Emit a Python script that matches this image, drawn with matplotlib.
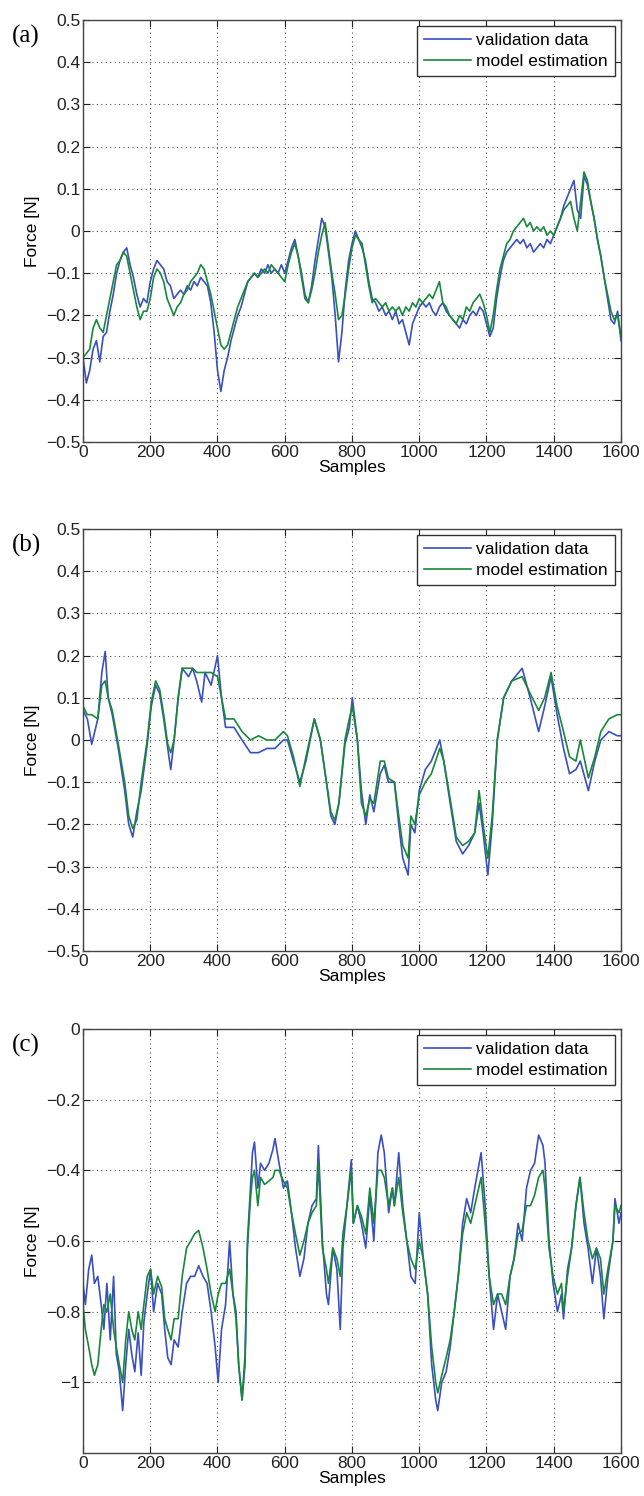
import numpy as np
import matplotlib
matplotlib.use("Agg")
from matplotlib import pyplot as plt

# panel (a): samples every 10
a_x = np.arange(0, 1601, 10)
a_valid = [-0.30, -0.36, -0.33, -0.28, -0.26, -0.31, -0.25, -0.24, -0.19, -0.15,
           -0.10, -0.07, -0.05, -0.04, -0.08, -0.11, -0.15, -0.18, -0.16, -0.17,
           -0.12, -0.09, -0.07, -0.08, -0.09, -0.12, -0.13, -0.16, -0.15, -0.14,
           -0.15, -0.13, -0.14, -0.12, -0.13, -0.11, -0.12, -0.13, -0.17, -0.24,
           -0.33, -0.38, -0.33, -0.30, -0.26, -0.23, -0.20, -0.18, -0.15, -0.12,
           -0.11, -0.10, -0.11, -0.09, -0.10, -0.08, -0.10, -0.09, -0.10, -0.08,
           -0.10, -0.07, -0.04, -0.02, -0.06, -0.10, -0.15, -0.17, -0.13, -0.07,
           -0.02, 0.03, 0.01, -0.05, -0.11, -0.20, -0.31, -0.24, -0.14, -0.07,
           -0.03, 0.00, -0.02, -0.04, -0.07, -0.12, -0.16, -0.17, -0.19, -0.18,
           -0.20, -0.19, -0.21, -0.19, -0.22, -0.21, -0.24, -0.27, -0.22, -0.20,
           -0.18, -0.17, -0.18, -0.17, -0.19, -0.20, -0.18, -0.17, -0.19, -0.20,
           -0.21, -0.22, -0.23, -0.21, -0.22, -0.20, -0.19, -0.20, -0.18, -0.19,
           -0.22, -0.25, -0.23, -0.16, -0.11, -0.07, -0.05, -0.04, -0.03, -0.02,
           -0.03, -0.02, -0.04, -0.03, -0.05, -0.04, -0.03, -0.04, -0.02, -0.03,
           -0.01, 0.01, 0.03, 0.06, 0.08, 0.10, 0.12, 0.05, 0.03, 0.13,
           0.11, 0.07, 0.03, -0.02, -0.06, -0.11, -0.16, -0.21, -0.22, -0.19,
           -0.26]
a_model = [-0.30, -0.29, -0.28, -0.23, -0.21, -0.23, -0.24, -0.20, -0.16, -0.12,
           -0.08, -0.07, -0.05, -0.06, -0.10, -0.14, -0.18, -0.21, -0.19, -0.19,
           -0.16, -0.11, -0.09, -0.10, -0.12, -0.16, -0.18, -0.20, -0.18, -0.17,
           -0.15, -0.14, -0.12, -0.11, -0.10, -0.08, -0.09, -0.12, -0.15, -0.19,
           -0.23, -0.27, -0.28, -0.27, -0.24, -0.21, -0.18, -0.16, -0.14, -0.12,
           -0.11, -0.10, -0.11, -0.10, -0.09, -0.10, -0.08, -0.09, -0.10, -0.11,
           -0.12, -0.08, -0.05, -0.03, -0.06, -0.11, -0.16, -0.17, -0.14, -0.10,
           -0.05, -0.01, 0.02, -0.04, -0.10, -0.15, -0.21, -0.20, -0.15, -0.09,
           -0.04, -0.01, -0.02, -0.03, -0.08, -0.13, -0.17, -0.16, -0.17, -0.18,
           -0.17, -0.19, -0.18, -0.19, -0.18, -0.20, -0.18, -0.19, -0.17, -0.18,
           -0.16, -0.17, -0.16, -0.15, -0.16, -0.14, -0.12, -0.17, -0.18, -0.20,
           -0.21, -0.22, -0.20, -0.21, -0.18, -0.19, -0.17, -0.16, -0.15, -0.17,
           -0.20, -0.24, -0.20, -0.14, -0.09, -0.06, -0.03, -0.02, 0.00, 0.01,
           0.02, 0.03, 0.01, 0.02, 0.00, 0.01, 0.00, 0.01, -0.01, 0.00,
           -0.01, 0.01, 0.03, 0.05, 0.06, 0.07, 0.03, 0.00, 0.07, 0.14,
           0.12, 0.07, 0.03, -0.02, -0.06, -0.11, -0.15, -0.19, -0.21, -0.20,
           -0.25]

# panel (b): key samples
b_x = [0, 13, 26, 44, 56, 66, 75, 87, 105, 124, 136, 148, 160, 173, 191, 203,
       216, 228, 240, 252, 261, 271, 283, 295, 314, 326, 338, 353, 363, 381, 400,
       412, 424, 449, 473, 498, 522, 547, 571, 596, 608, 626, 645, 663, 688, 706,
       724, 737, 749, 761, 779, 792, 801, 816, 828, 841, 853, 865, 884, 896, 908,
       926, 939, 951, 967, 975, 987, 1000, 1018, 1036, 1061, 1073, 1092, 1110,
       1129, 1147, 1165, 1178, 1190, 1204, 1217, 1232, 1251, 1275, 1306, 1330,
       1355, 1373, 1392, 1410, 1429, 1447, 1466, 1479, 1503, 1522, 1540, 1564,
       1589, 1600]
b_valid = [0.07, 0.05, -0.01, 0.05, 0.16, 0.21, 0.10, 0.06, -0.02, -0.12, -0.20,
           -0.23, -0.17, -0.12, -0.01, 0.08, 0.13, 0.11, 0.05, -0.02, -0.07, 0.00,
           0.10, 0.17, 0.15, 0.17, 0.14, 0.09, 0.16, 0.13, 0.20, 0.10, 0.03, 0.03,
           0.00, -0.03, -0.03, -0.02, -0.02, 0.00, 0.00, -0.05, -0.10, -0.05, 0.05,
           0.00, -0.10, -0.18, -0.20, -0.15, -0.01, 0.03, 0.10, 0.00, -0.12, -0.20,
           -0.13, -0.17, -0.08, -0.06, -0.10, -0.10, -0.20, -0.28, -0.32, -0.20,
           -0.22, -0.12, -0.07, -0.05, 0.00, -0.05, -0.15, -0.24, -0.27, -0.25,
           -0.22, -0.15, -0.22, -0.32, -0.20, 0.00, 0.10, 0.14, 0.17, 0.10, 0.02,
           0.08, 0.15, 0.06, -0.02, -0.08, -0.07, -0.05, -0.12, -0.05, 0.00, 0.02,
           0.01, 0.01]
b_model = [0.08, 0.06, 0.06, 0.05, 0.13, 0.14, 0.10, 0.07, -0.01, -0.10, -0.18,
           -0.21, -0.19, -0.10, 0.00, 0.09, 0.14, 0.12, 0.06, -0.01, -0.03, 0.00,
           0.10, 0.17, 0.17, 0.17, 0.16, 0.16, 0.16, 0.16, 0.15, 0.10, 0.05, 0.05,
           0.02, 0.00, 0.01, 0.00, 0.00, 0.02, 0.01, -0.04, -0.11, -0.04, 0.05,
           0.00, -0.10, -0.17, -0.19, -0.15, 0.00, 0.05, 0.08, 0.00, -0.15, -0.18,
           -0.14, -0.15, -0.05, -0.05, -0.09, -0.10, -0.18, -0.25, -0.28, -0.18,
           -0.20, -0.13, -0.10, -0.08, -0.02, -0.05, -0.14, -0.23, -0.25, -0.24,
           -0.22, -0.12, -0.20, -0.28, -0.18, 0.00, 0.10, 0.14, 0.15, 0.11, 0.07,
           0.10, 0.16, 0.08, 0.02, -0.04, -0.05, 0.00, -0.09, -0.04, 0.02, 0.05,
           0.06, 0.06]

# panel (c): key samples
c_x = [0, 7, 17, 26, 34, 44, 54, 62, 71, 81, 91, 99, 108, 118, 127, 136, 145,
       154, 164, 173, 181, 191, 201, 210, 222, 234, 243, 252, 262, 271, 283, 295,
       308, 320, 332, 344, 357, 369, 381, 393, 402, 412, 424, 436, 446, 455, 463,
       473, 482, 489, 498, 504, 510, 520, 528, 540, 553, 565, 571, 583, 596, 608,
       620, 632, 645, 657, 669, 681, 694, 700, 712, 724, 730, 743, 755, 765, 773,
       785, 798, 804, 816, 828, 841, 853, 865, 877, 887, 896, 909, 920, 926, 939,
       951, 963, 975, 988, 1000, 1012, 1025, 1037, 1049, 1055, 1067, 1080, 1092,
       1104, 1116, 1129, 1141, 1153, 1165, 1184, 1196, 1208, 1221, 1233, 1245,
       1257, 1270, 1282, 1294, 1306, 1319, 1331, 1343, 1355, 1368, 1374, 1386,
       1398, 1411, 1423, 1429, 1441, 1453, 1466, 1478, 1490, 1502, 1515, 1527,
       1539, 1549, 1561, 1576, 1582, 1594, 1600]
c_valid = [-0.72, -0.78, -0.68, -0.64, -0.72, -0.70, -0.78, -0.85, -0.72, -0.88,
           -0.70, -0.92, -0.97, -1.08, -0.95, -0.85, -0.92, -0.97, -0.86, -0.98,
           -0.83, -0.75, -0.68, -0.80, -0.72, -0.75, -0.85, -0.93, -0.95, -0.88,
           -0.90, -0.80, -0.72, -0.70, -0.70, -0.67, -0.70, -0.72, -0.80, -0.90,
           -1.00, -0.85, -0.78, -0.60, -0.75, -0.80, -0.95, -1.05, -0.95, -0.60,
           -0.45, -0.35, -0.32, -0.45, -0.38, -0.40, -0.38, -0.34, -0.31, -0.38,
           -0.45, -0.43, -0.52, -0.62, -0.70, -0.65, -0.55, -0.50, -0.48, -0.33,
           -0.60, -0.75, -0.78, -0.62, -0.68, -0.85, -0.62, -0.50, -0.37, -0.55,
           -0.50, -0.55, -0.62, -0.47, -0.60, -0.35, -0.30, -0.35, -0.52, -0.45,
           -0.50, -0.35, -0.50, -0.60, -0.70, -0.72, -0.52, -0.65, -0.75, -0.95,
           -1.05, -1.08, -1.00, -0.97, -0.90, -0.80, -0.70, -0.55, -0.48, -0.52,
           -0.45, -0.35, -0.50, -0.70, -0.85, -0.75, -0.80, -0.85, -0.70, -0.65,
           -0.55, -0.60, -0.45, -0.40, -0.38, -0.30, -0.33, -0.38, -0.60, -0.72,
           -0.80, -0.75, -0.82, -0.68, -0.62, -0.50, -0.42, -0.55, -0.62, -0.72,
           -0.62, -0.70, -0.82, -0.70, -0.60, -0.48, -0.55, -0.52]
c_model = [-0.78, -0.85, -0.90, -0.95, -0.98, -0.95, -0.85, -0.78, -0.80, -0.75,
           -0.85, -0.90, -0.95, -1.00, -0.88, -0.80, -0.85, -0.88, -0.80, -0.85,
           -0.78, -0.70, -0.68, -0.75, -0.70, -0.73, -0.82, -0.85, -0.88, -0.82,
           -0.82, -0.70, -0.62, -0.60, -0.58, -0.57, -0.62, -0.68, -0.75, -0.80,
           -0.75, -0.72, -0.72, -0.68, -0.75, -0.82, -0.95, -1.05, -0.92, -0.62,
           -0.48, -0.42, -0.40, -0.50, -0.42, -0.44, -0.43, -0.42, -0.40, -0.40,
           -0.43, -0.45, -0.52, -0.58, -0.64, -0.60, -0.55, -0.52, -0.50, -0.38,
           -0.62, -0.68, -0.72, -0.62, -0.65, -0.70, -0.58, -0.50, -0.40, -0.55,
           -0.50, -0.53, -0.58, -0.45, -0.55, -0.40, -0.40, -0.42, -0.50, -0.45,
           -0.50, -0.42, -0.52, -0.60, -0.65, -0.68, -0.60, -0.65, -0.75, -0.90,
           -1.00, -1.03, -0.98, -0.93, -0.88, -0.80, -0.70, -0.58, -0.52, -0.55,
           -0.50, -0.42, -0.55, -0.70, -0.78, -0.75, -0.75, -0.78, -0.70, -0.65,
           -0.58, -0.57, -0.50, -0.50, -0.47, -0.42, -0.40, -0.45, -0.62, -0.70,
           -0.75, -0.72, -0.80, -0.70, -0.62, -0.50, -0.42, -0.52, -0.60, -0.65,
           -0.62, -0.65, -0.75, -0.68, -0.60, -0.50, -0.52, -0.50]

panels = [
    ("(a)", a_x, a_valid, a_x, a_model, (-0.5, 0.5), np.arange(-5, 6) / 10),
    ("(b)", b_x, b_valid, b_x, b_model, (-0.5, 0.5), np.arange(-5, 6) / 10),
    ("(c)", c_x, c_valid, c_x, c_model, (-1.2, 0.0), np.arange(-5, 1) / 5),
]

col_valid = "#3a4fc0"
col_model = "#17883a"


def ylab(v):
    if abs(v) < 1e-9:
        return "0"
    return ("%g" % round(v, 1)).replace("-", "\u2212")


plt.rcParams['font.family'] = ['Liberation Sans', 'DejaVu Sans']

fig = plt.figure(figsize=(6.44, 14.96), dpi=100)
# axes boxes in pixels: left, top, bottom
boxes = [(83, 20, 442), (83, 529, 951), (83, 1029, 1453)]
W, H = 644.0, 1496.0
fs = 12.5

for (lab, xv, yv, xm, ym, ylim, yt), (l, t, b) in zip(panels, boxes):
    ax = fig.add_axes([l / W, 1 - b / H, 538 / W, (b - t) / H])
    ax.plot(xv, yv, color=col_valid, lw=1.2, label="validation data")
    ax.plot(xm, ym, color=col_model, lw=1.2, label="model estimation")
    ax.set_xlim(0, 1600)
    ax.set_ylim(*ylim)
    ax.set_xticks(np.arange(0, 1601, 200))
    ax.set_yticks(yt)
    ax.set_yticklabels([ylab(v) for v in yt])
    ax.grid(True, linestyle=(0, (1, 3)), color="#555555", linewidth=0.8)
    ax.tick_params(direction="in", top=True, right=True, length=5, width=0.8,
                   labelsize=fs, pad=2, colors="#222222")
    for s in ax.spines.values():
        s.set_color("#444444")
        s.set_linewidth(1.0)
    ax.set_xlabel("Samples", fontsize=fs, labelpad=0)
    ax.set_ylabel("Force [N]", fontsize=fs, labelpad=4)
    leg = ax.legend(loc="upper right", fontsize=fs, handlelength=2.7,
                    borderaxespad=0.35, fancybox=False, framealpha=1,
                    edgecolor="#333333", borderpad=0.4, labelspacing=0.35,
                    handletextpad=0.3)
    leg.get_frame().set_linewidth(1.0)
    fig.text(12 / W, 1 - (t + 16) / H, lab, family="Liberation Serif",
             fontsize=18, va="center", ha="left")

fig.savefig("out.png", dpi=100)
